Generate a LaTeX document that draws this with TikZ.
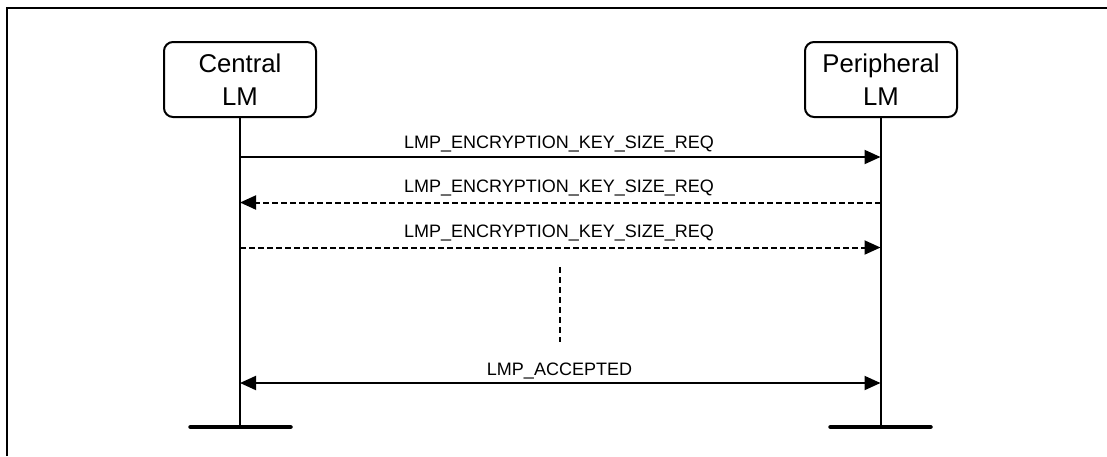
\documentclass[tikz,border=0pt]{standalone}
\usepackage{fontspec}
\setmainfont{Liberation Sans}
\usetikzlibrary{arrows.meta}
\begin{document}
\begin{tikzpicture}[x=1pt,y=-1pt,
  lmbox/.style={draw,line width=2pt,rounded corners=9pt,minimum width=152pt,minimum height=75pt,
    inner sep=0pt,align=center,font=\fontsize{25.7}{32.5}\selectfont},
  life/.style={line width=2pt},
  bar/.style={line width=4.5pt,line cap=round},
  msg/.style={line width=2pt,-{Triangle[length=16pt,width=14pt]}},
  bimsg/.style={line width=2pt,{Triangle[length=16pt,width=14pt]}-{Triangle[length=16pt,width=14pt]}},
  dmsg/.style={msg,dash pattern=on 6pt off 3pt},
  lbl/.style={anchor=base,inner sep=0pt,font=\fontsize{18}{20}\selectfont},
  frameline/.style={line width=2pt}]
\useasboundingbox (0,0) rectangle (1107,456);
\draw[frameline] (7,456) -- (7,8) -- (1107,8);
\node[lmbox] (central) at (240,79.5) {Central\\LM};
\node[lmbox] (peripheral) at (881,79.5) {Peripheral\\LM};
\coordinate (cbot) at (240,427);
\coordinate (pbot) at (880.5,427);
\draw[life] (central.south) -- (cbot);
\draw[life] (peripheral.south -| pbot) -- (pbot);
\coordinate (cbl) at (190.5,427);
\coordinate (cbr) at (290.5,427);
\coordinate (pbl) at (830.5,427);
\coordinate (pbr) at (930.5,427);
\draw[bar] (cbl) -- (cbr);
\draw[bar] (pbl) -- (pbr);
% message endpoints
\coordinate (c1) at (240,157);   \coordinate (p1) at (880.5,157);
\coordinate (c2) at (240,202.5); \coordinate (p2) at (880.5,202.5);
\coordinate (c3) at (240,247.5); \coordinate (p3) at (880.5,247.5);
\coordinate (c4) at (240,383);   \coordinate (p4) at (880.5,383);
\draw[msg] (c1) -- (p1);
\draw[dmsg] (p2) -- (c2);
\draw[dmsg] (c3) -- (p3);
\draw[bimsg] (c4) -- (p4);
\node[lbl] (l1) at (559,148.5) {LMP\_ENCRYPTION\_KEY\_SIZE\_REQ};
\node[lbl] (l2) at (559,192.5) {LMP\_ENCRYPTION\_KEY\_SIZE\_REQ};
\node[lbl] (l3) at (559,237) {LMP\_ENCRYPTION\_KEY\_SIZE\_REQ};
\node[lbl] (l4) at (559.5,375) {LMP\_ACCEPTED};
% continuation marker
\coordinate (d1) at (560,267);
\coordinate (d2) at (560,342);
\draw[line width=2pt,dash pattern=on 6pt off 4pt] (d1) -- (d2);
\end{tikzpicture}
\end{document}
